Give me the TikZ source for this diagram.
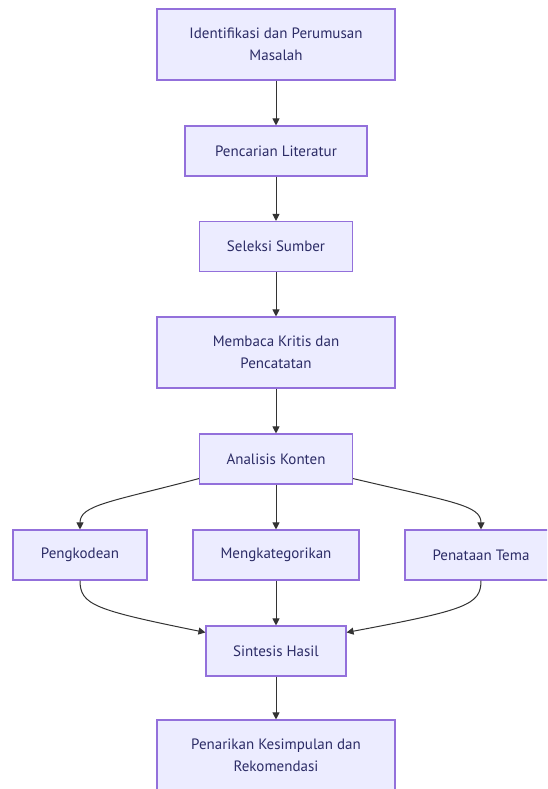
\documentclass[tikz,border=0pt]{standalone}
\usepackage{fontspec}
\setmainfont{PT Sans}
\usetikzlibrary{arrows.meta}
\definecolor{boxfill}{HTML}{ECECFF}
\definecolor{boxline}{HTML}{9370DB}
\definecolor{boxtext}{HTML}{2C2C66}
\definecolor{linec}{HTML}{333333}
\tikzset{
  box/.style={draw=boxline, fill=boxfill, line width=1.1pt, text=boxtext,
    font=\fontsize{15pt}{22pt}\selectfont, align=center, inner sep=0pt},
  arr/.style={draw=linec, line width=1pt, -{Triangle[length=7pt,width=7pt]}}
}
\begin{document}
\begin{tikzpicture}[x=1pt,y=1pt]
\useasboundingbox (0,0) rectangle (547,-789);
\clip (0,0) rectangle (547,-789);
\node[box, minimum width=238pt, minimum height=71pt] (n1) at (276,-44.5) {Identifikasi dan Perumusan\\Masalah};
\node[box, minimum width=182pt, minimum height=50pt] (n2) at (276,-151) {Pencarian Literatur};
\node[box, minimum width=153pt, minimum height=50pt] (n3) at (276,-246.5) {Seleksi Sumber};
\node[box, minimum width=238pt, minimum height=71pt] (n4) at (276,-352.5) {Membaca Kritis dan\\Pencatatan};
\node[box, minimum width=153pt, minimum height=50pt] (n5) at (276,-459) {Analisis Konten};
\node[box, minimum width=134pt, minimum height=50pt] (n6) at (80,-555) {Pengkodean};
\node[box, minimum width=166pt, minimum height=50pt] (n7) at (276,-555) {Mengkategorikan};
\node[box, minimum width=152pt, minimum height=50pt] (n8) at (481,-555) {Penataan Tema};
\node[box, minimum width=140pt, minimum height=50pt] (n9) at (276,-651) {Sintesis Hasil};
\node[box, minimum width=238pt, minimum height=71pt] (n10) at (276,-755.5) {Penarikan Kesimpulan dan\\Rekomendasi};

\draw[arr] (n1) -- (n2);
\draw[arr] (n2) -- (n3);
\draw[arr] (n3) -- (n4);
\draw[arr] (n4) -- (n5);
\draw[arr] (n5) -- (n7);
\draw[arr] (n7) -- (n9);
\draw[arr] (n9) -- (n10);
\draw[arr] ([yshift=6pt]n5.south west) .. controls (110,-502) and (80,-505) .. (n6.north);
\draw[arr] ([yshift=6pt]n5.south east) .. controls (452,-502) and (481,-505) .. (n8.north);
\draw[arr] (n6.south) .. controls (80,-605) and (95,-610) .. ([yshift=-7pt]n9.north west);
\draw[arr] (n8.south) .. controls (481,-605) and (466,-610) .. ([yshift=-7pt]n9.north east);
\end{tikzpicture}
\end{document}
